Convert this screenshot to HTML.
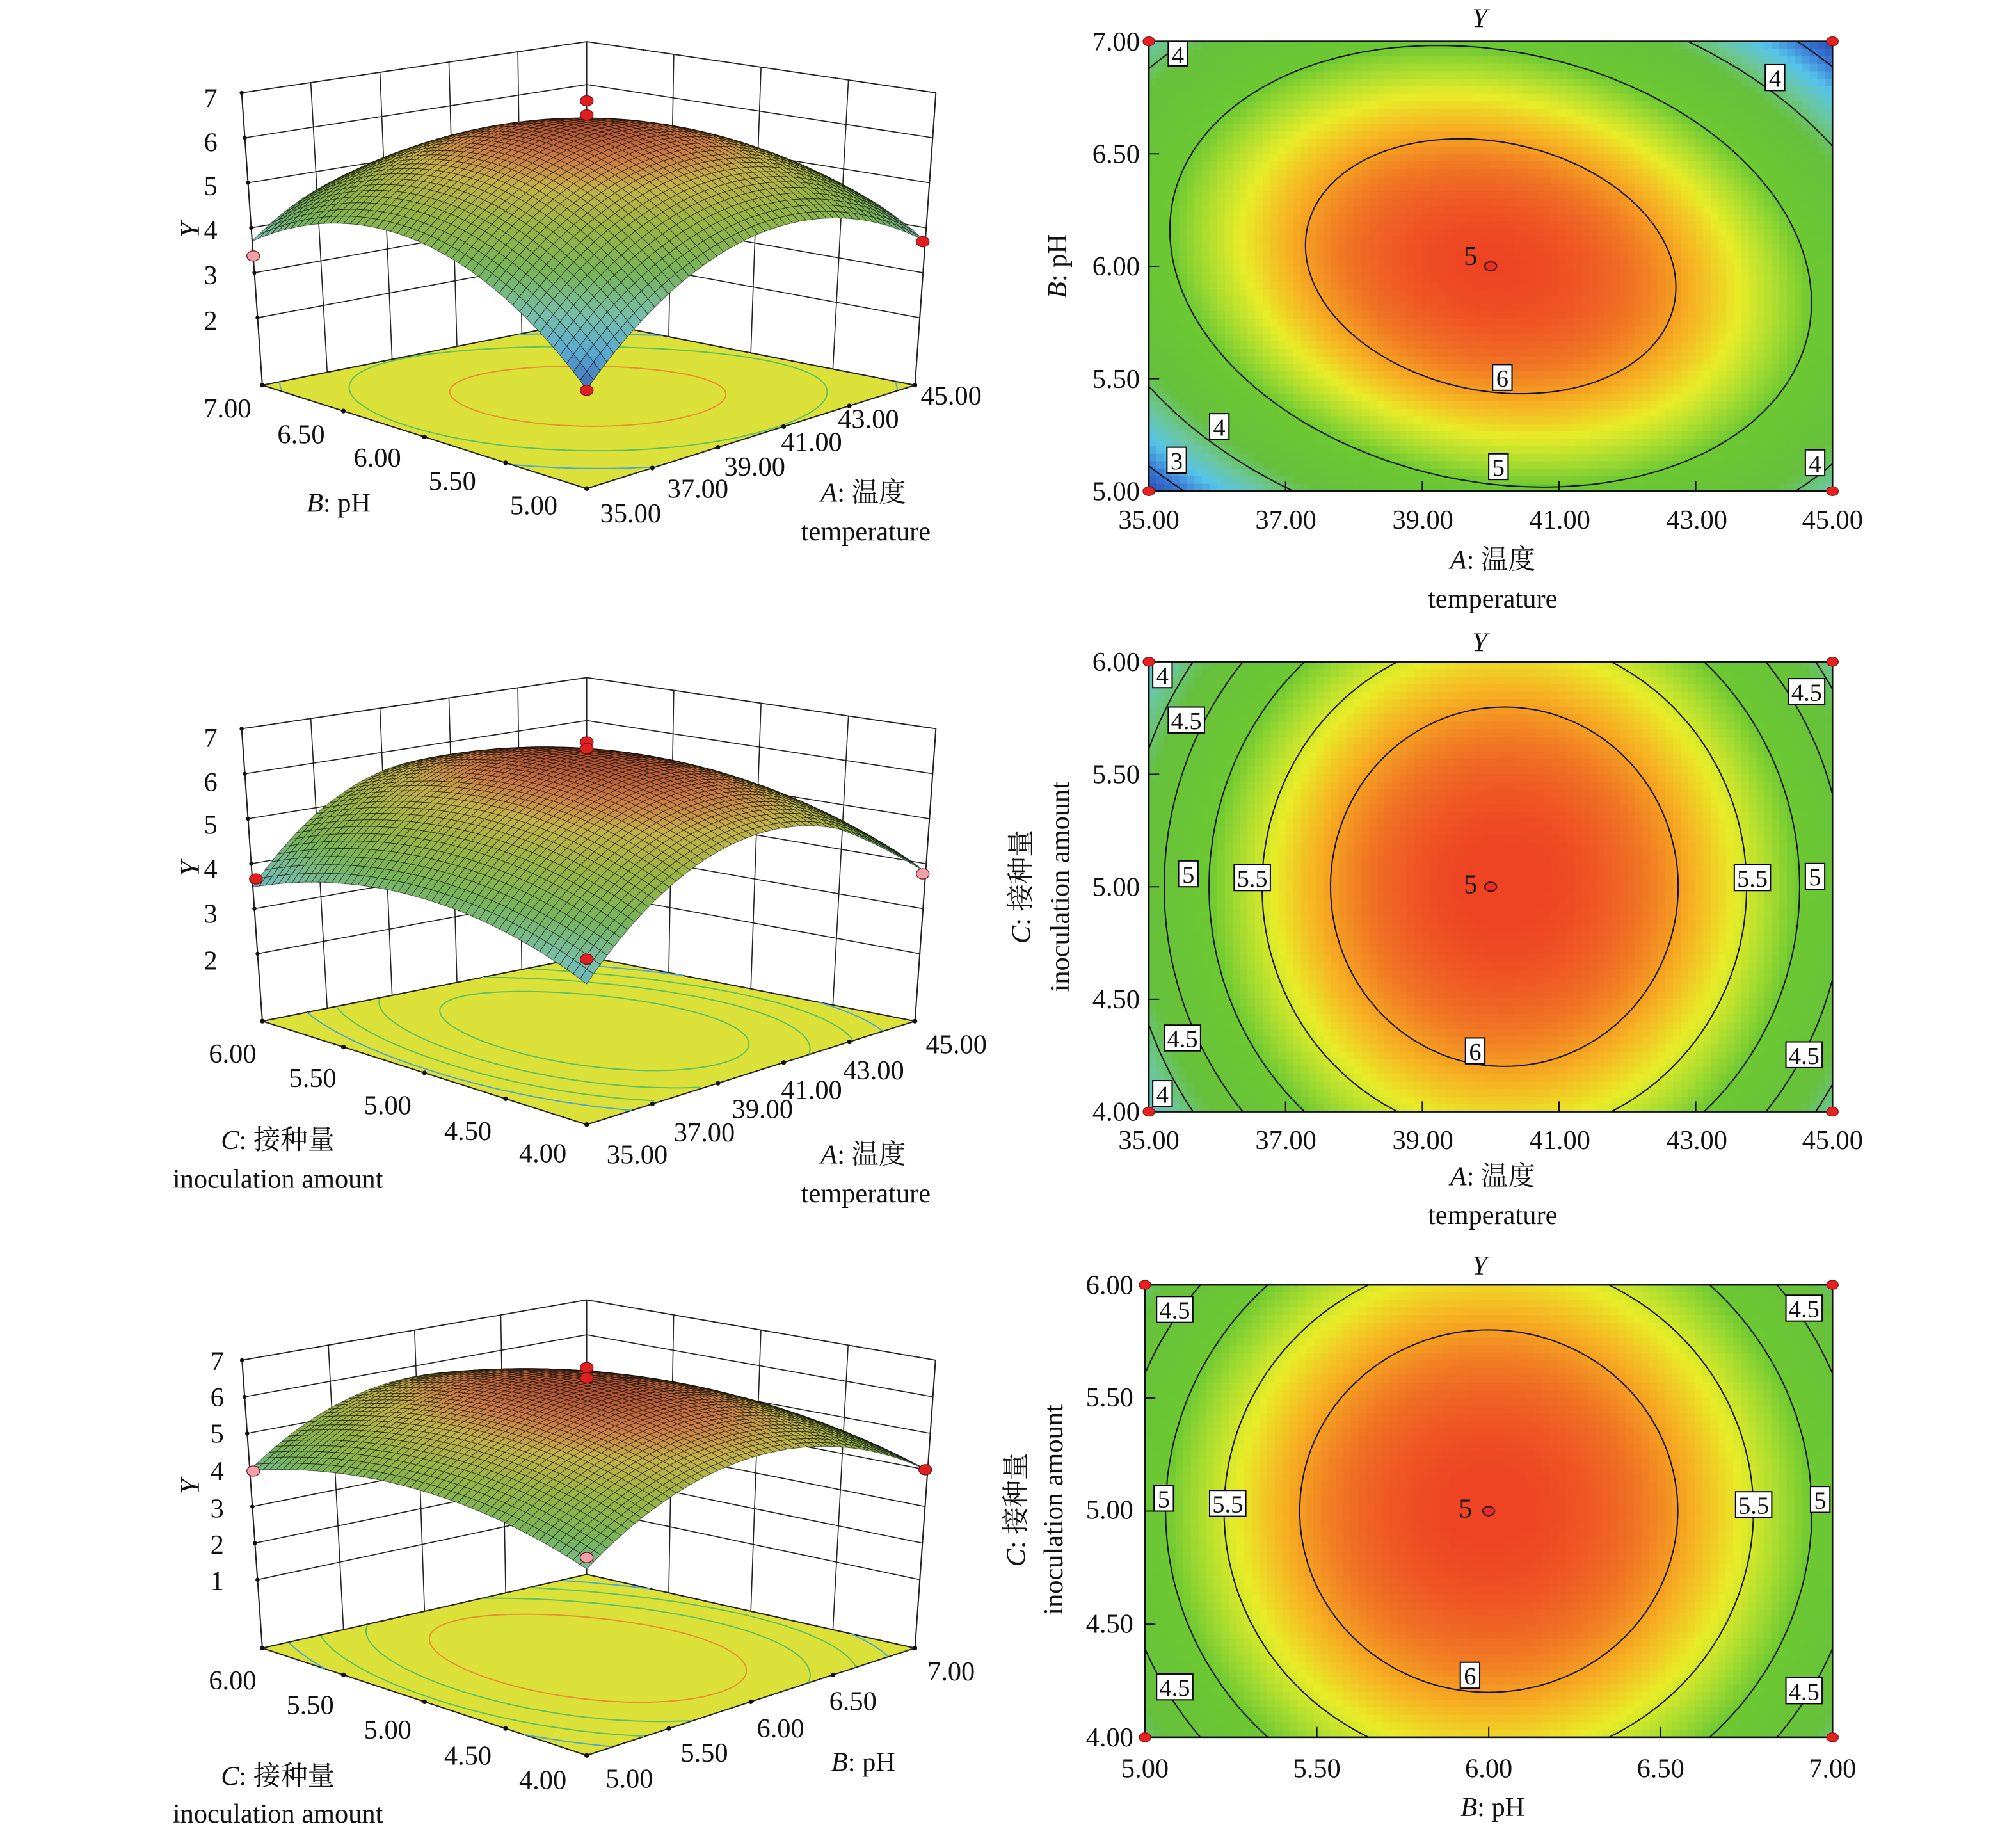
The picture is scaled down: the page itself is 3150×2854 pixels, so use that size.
<!DOCTYPE html>
<html><head><meta charset="utf-8"><style>
html,body{margin:0;padding:0;background:#fff;}
svg{display:block;}
text{font-family:"Liberation Serif","Times New Roman","Noto Serif CJK SC",serif;font-size:21px;fill:#111;}
.it{font-style:italic;}
.lb rect{fill:#fff;stroke:#000;stroke-width:1;}
.lb text{font-size:19px;text-anchor:middle;}
.mid{text-anchor:middle;}
.end{text-anchor:end;}
</style></head><body>
<svg id="S" xmlns="http://www.w3.org/2000/svg" width="3150" height="2854" viewBox="0 0 1560 1413.4" preserveAspectRatio="none">
<defs>
<clipPath id="c1"><rect x="889" y="32" width="529" height="348"/></clipPath>
<clipPath id="c2"><rect x="889" y="512" width="529" height="348"/></clipPath>
<clipPath id="c3"><rect x="886" y="994" width="532" height="350"/></clipPath>
</defs>
<g id="G"></g>
<g id="T">
<g class="mid">
<text x="163" y="83">7</text><text x="163" y="117">6</text><text x="163" y="151">5</text><text x="163" y="185">4</text><text x="163" y="220">3</text><text x="163" y="255">2</text>
<text class="it" transform="translate(154,178) rotate(-90)">Y</text>
<text x="176" y="323">7.00</text><text x="233" y="343">6.50</text><text x="292" y="361">6.00</text><text x="350" y="379">5.50</text><text x="413" y="398">5.00</text>
<text x="262" y="396"><tspan class="it">B</tspan>: pH</text>
<text x="488" y="404">35.00</text><text x="540" y="385">37.00</text><text x="584" y="368">39.00</text><text x="628" y="349">41.00</text><text x="672" y="331">43.00</text><text x="736" y="313">45.00</text>
<text x="668" y="388"><tspan class="it">A</tspan>: 温度</text><text x="670" y="418">temperature</text>
</g>
<g class="mid">
<text x="163" y="578">7</text><text x="163" y="612">6</text><text x="163" y="645">5</text><text x="163" y="679">4</text><text x="163" y="714">3</text><text x="163" y="750">2</text>
<text class="it" transform="translate(154,672) rotate(-90)">Y</text>
<text x="180" y="822">6.00</text><text x="242" y="841">5.50</text><text x="300" y="862">5.00</text><text x="362" y="882">4.50</text><text x="420" y="899">4.00</text>
<text x="215" y="889"><tspan class="it">C</tspan>: 接种量</text><text x="215" y="919">inoculation amount</text>
<text x="493" y="900">35.00</text><text x="545" y="883">37.00</text><text x="590" y="865">39.00</text><text x="628" y="850">41.00</text><text x="676" y="835">43.00</text><text x="740" y="815">45.00</text>
<text x="668" y="900"><tspan class="it">A</tspan>: 温度</text><text x="670" y="930">temperature</text>
</g>
<g class="mid">
<text x="168" y="1060">7</text><text x="168" y="1088">6</text><text x="168" y="1116">5</text><text x="168" y="1145">4</text><text x="168" y="1174">3</text><text x="168" y="1202">2</text><text x="168" y="1230">1</text>
<text class="it" transform="translate(154,1150) rotate(-90)">Y</text>
<text x="180" y="1307">6.00</text><text x="240" y="1326">5.50</text><text x="300" y="1345">5.00</text><text x="362" y="1365">4.50</text><text x="420" y="1384">4.00</text>
<text x="215" y="1381"><tspan class="it">C</tspan>: 接种量</text><text x="215" y="1410">inoculation amount</text>
<text x="487" y="1383">5.00</text><text x="545" y="1363">5.50</text><text x="604" y="1344">6.00</text><text x="660" y="1323">6.50</text><text x="736" y="1300">7.00</text>
<text x="668" y="1370"><tspan class="it">B</tspan>: pH</text>
</g>
<text class="it mid" x="1145" y="21">Y</text>
<g class="end"><text x="882" y="39">7.00</text><text x="882" y="126">6.50</text><text x="882" y="213">6.00</text><text x="882" y="300">5.50</text><text x="882" y="387">5.00</text></g>
<g class="mid"><text x="889" y="409">35.00</text><text x="995" y="409">37.00</text><text x="1101" y="409">39.00</text><text x="1207" y="409">41.00</text><text x="1313" y="409">43.00</text><text x="1418" y="409">45.00</text>
<text x="1155" y="440"><tspan class="it">A</tspan>: 温度</text><text x="1155" y="470">temperature</text>
<text transform="translate(825,206) rotate(-90)"><tspan class="it">B</tspan>: pH</text></g>
<text class="it mid" x="1145" y="504">Y</text>
<g class="end"><text x="882" y="519">6.00</text><text x="882" y="606">5.50</text><text x="882" y="693">5.00</text><text x="882" y="780">4.50</text><text x="882" y="867">4.00</text></g>
<g class="mid"><text x="889" y="889">35.00</text><text x="995" y="889">37.00</text><text x="1101" y="889">39.00</text><text x="1207" y="889">41.00</text><text x="1313" y="889">43.00</text><text x="1418" y="889">45.00</text>
<text x="1155" y="917"><tspan class="it">A</tspan>: 温度</text><text x="1155" y="947">temperature</text>
<text transform="translate(797,686) rotate(-90)"><tspan class="it">C</tspan>: 接种量</text>
<text transform="translate(827,686) rotate(-90)">inoculation amount</text></g>
<text class="it mid" x="1145" y="986">Y</text>
<g class="end"><text x="877" y="1001">6.00</text><text x="877" y="1088">5.50</text><text x="877" y="1175">5.00</text><text x="877" y="1263">4.50</text><text x="877" y="1351">4.00</text></g>
<g class="mid"><text x="886" y="1375">5.00</text><text x="1019" y="1375">5.50</text><text x="1152" y="1375">6.00</text><text x="1285" y="1375">6.50</text><text x="1418" y="1375">7.00</text>
<text x="1155" y="1405"><tspan class="it">B</tspan>: pH</text>
<text transform="translate(793,1168) rotate(-90)"><tspan class="it">C</tspan>: 接种量</text>
<text transform="translate(822,1168) rotate(-90)">inoculation amount</text></g>
<g class="lb"><rect x="904" y="32" width="15" height="19"/><text x="911.5" y="49">4</text></g>
<g class="lb"><rect x="1366" y="50" width="15" height="20"/><text x="1373.5" y="67">4</text></g>
<text class="mid" x="1138" y="205">5</text>
<g class="lb"><rect x="1155" y="282" width="15" height="20"/><text x="1162.5" y="299">6</text></g>
<g class="lb"><rect x="936" y="320" width="15" height="20"/><text x="943.5" y="337">4</text></g>
<g class="lb"><rect x="903" y="346" width="15" height="20"/><text x="910.5" y="363">3</text></g>
<g class="lb"><rect x="1152" y="351" width="15" height="20"/><text x="1159.5" y="368">5</text></g>
<g class="lb"><rect x="1397" y="348" width="15" height="20"/><text x="1404.5" y="365">4</text></g>
<g class="lb"><rect x="892" y="512" width="15" height="20"/><text x="899.5" y="529">4</text></g>
<g class="lb"><rect x="904" y="547" width="28" height="20"/><text x="918" y="564">4.5</text></g>
<g class="lb"><rect x="1384" y="525" width="28" height="20"/><text x="1398" y="542">4.5</text></g>
<g class="lb"><rect x="912" y="666" width="15" height="20"/><text x="919.5" y="683">5</text></g>
<g class="lb"><rect x="955" y="669" width="28" height="20"/><text x="969" y="686">5.5</text></g>
<g class="lb"><rect x="1342" y="669" width="28" height="20"/><text x="1356" y="686">5.5</text></g>
<g class="lb"><rect x="1397" y="668" width="15" height="20"/><text x="1404.5" y="685">5</text></g>
<text class="mid" x="1138" y="691">5</text>
<g class="lb"><rect x="1134" y="803" width="15" height="20"/><text x="1141.5" y="820">6</text></g>
<g class="lb"><rect x="901" y="793" width="28" height="20"/><text x="915" y="810">4.5</text></g>
<g class="lb"><rect x="1382" y="806" width="28" height="20"/><text x="1396" y="823">4.5</text></g>
<g class="lb"><rect x="892" y="836" width="15" height="20"/><text x="899.5" y="853">4</text></g>
<g class="lb"><rect x="895" y="1003" width="28" height="20"/><text x="909" y="1020">4.5</text></g>
<g class="lb"><rect x="1382" y="1002" width="28" height="20"/><text x="1396" y="1019">4.5</text></g>
<g class="lb"><rect x="893" y="1149" width="15" height="20"/><text x="900.5" y="1166">5</text></g>
<g class="lb"><rect x="936" y="1153" width="28" height="20"/><text x="950" y="1170">5.5</text></g>
<g class="lb"><rect x="1343" y="1154" width="28" height="20"/><text x="1357" y="1171">5.5</text></g>
<g class="lb"><rect x="1401" y="1150" width="15" height="20"/><text x="1408.5" y="1167">5</text></g>
<text class="mid" x="1134" y="1174">5</text>
<g class="lb"><rect x="1130" y="1286" width="15" height="20"/><text x="1137.5" y="1303">6</text></g>
<g class="lb"><rect x="895" y="1295" width="28" height="20"/><text x="909" y="1312">4.5</text></g>
<g class="lb"><rect x="1382" y="1298" width="28" height="20"/><text x="1396" y="1315">4.5</text></g>
</g>
<g id="M"></g>
</svg>
<script>
const NS='http://www.w3.org/2000/svg';
const G=document.getElementById('G'),M=document.getElementById('M');
function el(t,a,p){const e=document.createElementNS(NS,t);for(const k in a)e.setAttribute(k,a[k]);p.appendChild(e);return e;}
function h2r(c){return[parseInt(c.slice(1,3),16),parseInt(c.slice(3,5),16),parseInt(c.slice(5,7),16)];}
function pal(st,v){if(v<=st[0][0])return st[0][1];if(v>=st[st.length-1][0])return st[st.length-1][1];
for(let i=0;i<st.length-1;i++){if(v>=st[i][0]&&v<=st[i+1][0]){const t=(v-st[i][0])/(st[i+1][0]-st[i][0]);const a=h2r(st[i][1]),b=h2r(st[i+1][1]);
return 'rgb('+a.map((x,j)=>Math.round(x+(b[j]-x)*t)).join(',')+')';}}}
const P2D=[[2.5,'#2244a8'],[3.0,'#3a78d4'],[3.4,'#55c4ea'],[3.8,'#6cc69a'],[4.2,'#66c03c'],[5.0,'#6cc832'],[5.3,'#a8dc30'],[5.6,'#e8ec28'],[5.9,'#f6b222'],[6.2,'#f07424'],[6.5,'#ee4424']];
const P3D=[[2.4,'#3450a8'],[3.2,'#5aa8d0'],[3.8,'#78beaa'],[4.5,'#78b45a'],[5.2,'#98b446'],[5.8,'#c4b24a'],[6.2,'#cc7c46'],[6.6,'#a84830']];
function f1(a,b){return 6.5-1.75*a*a-1.6*b*b-0.55*a*b;}
function f2(a,b){return 6.53-2.05*(a-0.04)*(a-0.04)-0.83*b*b;}
function f3(a,b){return 6.52-1.72*a*a-0.81*b*b;}
function contourPts(f,L){const pts=[];for(let k=0;k<=240;k++){const th=k/240*2*Math.PI,c=Math.cos(th),s=Math.sin(th);
let lo=0,hi=3;for(let it=0;it<40;it++){const m=(lo+hi)/2;if(f(m*c,m*s)>L)lo=m;else hi=m;}pts.push([lo*c,lo*s]);}return pts;}
function plot2d(f,x0,y0,w,h,clip,levels,ticksX,ticksY){
 const g=el('g',{'clip-path':'url(#'+clip+')'},G);
 const nx=90,ny=60;
 for(let i=0;i<nx;i++)for(let j=0;j<ny;j++){const a=-1+2*(i+.5)/nx,b=1-2*(j+.5)/ny;
  el('rect',{x:(x0+i*w/nx).toFixed(2),y:(y0+j*h/ny).toFixed(2),width:(w/nx+0.6).toFixed(2),height:(h/ny+0.6).toFixed(2),fill:pal(P2D,f(a,b))},g);}
 levels.forEach(L=>{const p=contourPts(f,L).map(q=>(x0+(q[0]+1)/2*w).toFixed(1)+','+(y0+(1-q[1])/2*h).toFixed(1));
  el('polyline',{points:p.join(' '),fill:'none',stroke:'#111','stroke-width':1},g);});
 el('rect',{x:x0,y:y0,width:w,height:h,fill:'none',stroke:'#111','stroke-width':1.3},G);
 for(let i=0;i<ticksX;i++){const x=x0+i*w/(ticksX-1);el('line',{x1:x,x2:x,y1:y0+h,y2:y0+h-8,stroke:'#111','stroke-width':1},G);}
 for(let i=0;i<ticksY;i++){const y=y0+i*h/(ticksY-1);el('line',{x1:x0,x2:x0+8,y1:y,y2:y,stroke:'#111','stroke-width':1},G);}
 [[x0,y0],[x0+w,y0],[x0,y0+h],[x0+w,y0+h]].forEach(p=>el('ellipse',{cx:p[0],cy:p[1],rx:4.5,ry:3.5,fill:'#e82020',stroke:'#801010','stroke-width':.6},M));
 el('ellipse',{cx:x0+w/2,cy:y0+h/2,rx:4.5,ry:3.5,fill:'#e83020',stroke:'#300','stroke-width':1},M);
}
plot2d(f1,889,32,529,348,'c1',[3,4,5,6],6,5);
plot2d(f2,889,512,529,348,'c2',[4,4.5,5,5.5,6],6,5);
plot2d(f3,886,994,532,350,'c3',[4,4.5,5,5.5,6],5,5);
function plot3d(cfg){
 const {F,L,R,B,k,z0,zt,zmax,nu,nv,f,floorLv}=cfg;const cx=F[0];
 const sF=36.5*k,sL=34.8*k,sR=34.8*k,sB=33.2*k;
 function pr(u,v,z){const px=F[0]*(1-u)*(1-v)+R[0]*u*(1-v)+L[0]*(1-u)*v+B[0]*u*v;
  const py=F[1]*(1-u)*(1-v)+R[1]*u*(1-v)+L[1]*(1-u)*v+B[1]*u*v;
  const s=sF*(1-u)*(1-v)+sR*u*(1-v)+sL*(1-u)*v+sB*u*v;const dz=z-z0;
  return[cx+(px-cx)*(1+0.0098*dz*s/34.8),py-dz*s];}
 const g=el('g',{},G);const ln=(a,b,w,c)=>el('line',{x1:a[0].toFixed(1),y1:a[1].toFixed(1),x2:b[0].toFixed(1),y2:b[1].toFixed(1),stroke:c||'#222','stroke-width':w||0.8},g);
 zt.forEach(z=>{ln(pr(0,1,z),pr(1,1,z));ln(pr(1,1,z),pr(1,0,z));});
 ln(pr(0,1,zmax),pr(1,1,zmax));ln(pr(1,1,zmax),pr(1,0,zmax));
 for(let i=0;i<nu;i++){const u=i/(nu-1);ln(pr(u,1,z0),pr(u,1,zmax));}
 for(let i=0;i<nv;i++){const v=i/(nv-1);ln(pr(1,v,z0),pr(1,v,zmax));}
 ln(pr(0,1,z0),pr(0,1,zmax),1);ln(pr(1,0,z0),pr(1,0,zmax),1);
 zt.forEach(z=>{const p=pr(0,1,z);el('circle',{cx:p[0],cy:p[1],r:1.6,fill:'#111'},g);});
 const fl=[pr(0,0,z0),pr(1,0,z0),pr(1,1,z0),pr(0,1,z0)];
 el('polygon',{points:fl.map(p=>p.join(',')).join(' '),fill:'#dce13a',stroke:'#222','stroke-width':1},g);
 floorLv.forEach(([Lv,col])=>{const pts=contourPts(f,Lv);let seg=[];const segs=[];
  pts.forEach(q=>{if(Math.abs(q[0])<=1&&Math.abs(q[1])<=1){const p=pr((q[0]+1)/2,(q[1]+1)/2,z0);seg.push(p[0].toFixed(1)+','+p[1].toFixed(1));}else{if(seg.length>1)segs.push(seg);seg=[];}});
  if(seg.length>1)segs.push(seg);
  segs.forEach(s=>el('polyline',{points:s.join(' '),fill:'none',stroke:col,'stroke-width':1},g));});
 for(let i=0;i<nu;i++){const p=pr(i/(nu-1),0,z0);el('circle',{cx:p[0],cy:p[1],r:1.8,fill:'#111'},g);}
 for(let i=0;i<nv;i++){const p=pr(0,i/(nv-1),z0);el('circle',{cx:p[0],cy:p[1],r:1.8,fill:'#111'},g);}
 const N=50;const cells=[];
 for(let i=0;i<N;i++)for(let j=0;j<N;j++)cells.push([i,j]);
 cells.sort((A,Bc)=>(Bc[0]+Bc[1])-(A[0]+A[1]));
 const sg=el('g',{},G);
 const Z=(u,v)=>f(2*u-1,2*v-1);
 cells.forEach(([i,j])=>{const u0=i/N,u1=(i+1)/N,v0=j/N,v1=(j+1)/N;
  const q=[[u0,v0],[u1,v0],[u1,v1],[u0,v1]].map(([u,v])=>pr(u,v,Z(u,v)));
  const zc=Z((u0+u1)/2,(v0+v1)/2);
  el('polygon',{points:q.map(p=>p[0].toFixed(1)+','+p[1].toFixed(1)).join(' '),fill:pal(P3D,zc),stroke:'rgba(0,0,0,0.55)','stroke-width':0.5},sg);});
 return pr;
}
function dot(x,y,c){el('ellipse',{cx:x,cy:y,rx:5,ry:4,fill:c||'#e02020',stroke:'#701010','stroke-width':.6},M);}
plot3d({F:[454,378],L:[203,298],R:[708,298],B:[454,248],k:1,z0:0.5,zt:[2,3,4,5,6,7],zmax:7,nu:6,nv:5,f:f1,floorLv:[[4,'#50a8c8'],[5,'#60c060'],[6,'#e89030']]});
dot(454,78);dot(454,89);dot(196,198,'#f0a0a8');dot(714,187);dot(454,302);
plot3d({F:[454,870],L:[203,790],R:[708,790],B:[454,740],k:1,z0:0.5,zt:[2,3,4,5,6,7],zmax:7,nu:6,nv:5,f:f2,floorLv:[[4.5,'#50a8c8'],[5,'#60c060'],[5.5,'#60c060'],[6,'#60c060']]});
dot(454,574);dot(454,579);dot(198,680);dot(714,676,'#f0a0a8');dot(454,742);
plot3d({F:[454,1358],L:[203,1275],R:[708,1275],B:[454,1218],k:0.813,z0:-0.87,zt:[1,2,3,4,5,6,7],zmax:7,nu:5,nv:5,f:f3,floorLv:[[4.5,'#50a8c8'],[5,'#60c060'],[5.5,'#60c060'],[6,'#e89030']]});
dot(454,1058);dot(454,1066);dot(196,1138,'#f0a0a8');dot(716,1137);dot(454,1205,'#f0a0a8');
</script>
</body></html>
